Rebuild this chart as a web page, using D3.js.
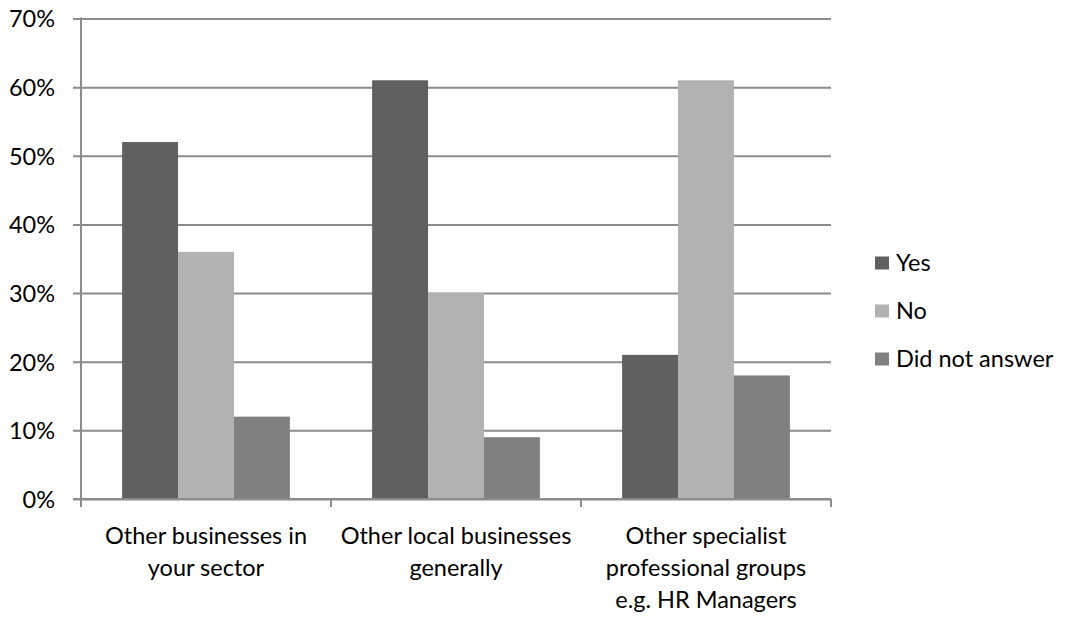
<!DOCTYPE html>
<html>
<head>
<meta charset="utf-8">
<script src="https://cdn.jsdelivr.net/npm/d3@7"></script>
<style>
  html, body { margin: 0; padding: 0; background: #fff; }
  svg text { font-family: Lato, "Open Sans", "Liberation Sans", sans-serif; fill: #000; }
</style>
</head>
<body>
<svg id="chart" width="1067" height="622"></svg>
<script>
// Survey responses by contact group
const categories = [
  ["Other businesses in", "your sector"],
  ["Other local businesses", "generally"],
  ["Other specialist", "professional groups", "e.g. HR Managers"]
];
const seriesNames = ["Yes", "No", "Did not answer"];
const yesValues = [52, 61, 21];
const noValues = [36, 30, 61];
const didNotAnswerValues = [12, 9, 18];
const yTicks = [0, 10, 20, 30, 40, 50, 60, 70];
const colors = ["#606060", "#b2b2b2", "#808080"];

const seriesValues = [yesValues, noValues, didNotAnswerValues];

const svg = d3.select("#chart");
const plot = { left: 81, right: 831, top: 18.5, bottom: 499 };
const fontSize = 23.5;

const x = d3.scaleBand()
  .domain(d3.range(categories.length))
  .range([plot.left, plot.right])
  .paddingInner(0)
  .paddingOuter(0);

const xInner = d3.scaleBand()
  .domain(d3.range(seriesNames.length))
  .range([0, x.bandwidth()])
  .paddingOuter(0.735)
  .paddingInner(0);

const y = d3.scaleLinear().domain([0, 70]).range([plot.bottom, plot.top]);

const gridColor = "#8c8c8c";

// horizontal gridlines with left ticks
const yAxis = d3.axisLeft(y)
  .tickValues(yTicks)
  .tickFormat(d => d + "%")
  .tickSize(-(plot.right - plot.left));
const gy = svg.append("g").attr("transform", `translate(${plot.left},0)`).call(yAxis);
gy.select(".domain").remove();
gy.selectAll(".tick line").attr("stroke", gridColor).attr("stroke-width", 2).attr("x1", -8);
gy.selectAll(".tick text")
  .attr("font-size", fontSize)
  .attr("font-family", null)
  .attr("x", -26)
  .attr("dy", "0.36em");

// bars
const groups = svg.append("g").selectAll("g")
  .data(categories)
  .join("g")
  .attr("transform", (d, i) => `translate(${x(i)},0)`);

groups.selectAll("rect")
  .data((d, i) => seriesValues.map((s, k) => ({ k, v: s[i] })))
  .join("rect")
  .attr("x", d => xInner(d.k))
  .attr("width", xInner.bandwidth())
  .attr("y", d => y(d.v))
  .attr("height", d => y(0) - y(d.v))
  .attr("fill", d => colors[d.k]);

// left axis line
svg.append("line")
  .attr("x1", plot.left).attr("x2", plot.left)
  .attr("y1", plot.top - 1).attr("y2", plot.bottom + 1)
  .attr("stroke", gridColor).attr("stroke-width", 2);

// bottom axis with category boundary ticks
const xAxis = svg.append("g");
xAxis.append("line")
  .attr("x1", plot.left - 8).attr("x2", plot.right)
  .attr("y1", plot.bottom).attr("y2", plot.bottom)
  .attr("stroke", gridColor).attr("stroke-width", 2);
const boundaries = d3.range(categories.length + 1).map(i => i < categories.length ? x(i) : x(i - 1) + x.bandwidth());
xAxis.selectAll("line.bt")
  .data(boundaries)
  .join("line")
  .attr("class", "bt")
  .attr("x1", d => d).attr("x2", d => d)
  .attr("y1", plot.bottom).attr("y2", plot.bottom + 8)
  .attr("stroke", gridColor).attr("stroke-width", 2);

// category labels
const labels = svg.append("g").selectAll("text")
  .data(categories)
  .join("text")
  .attr("text-anchor", "middle")
  .attr("font-size", fontSize)
  .attr("transform", (d, i) => `translate(${x(i) + x.bandwidth() / 2},${plot.bottom + 45})`);
labels.selectAll("tspan")
  .data(d => d)
  .join("tspan")
  .attr("x", 0)
  .attr("dy", (d, j) => j === 0 ? 0 : 32)
  .text(d => d);

// legend
const legend = svg.append("g").attr("transform", "translate(875,263)");
const items = legend.selectAll("g")
  .data(seriesNames)
  .join("g")
  .attr("transform", (d, i) => `translate(0,${i * 48})`);
items.append("rect")
  .attr("x", 0).attr("y", -6.5)
  .attr("width", 14).attr("height", 13)
  .attr("fill", (d, i) => colors[i]);
items.append("text")
  .attr("x", 21).attr("y", 0)
  .attr("dy", "0.36em")
  .attr("font-size", fontSize)
  .text(d => d);
</script>
</body>
</html>
